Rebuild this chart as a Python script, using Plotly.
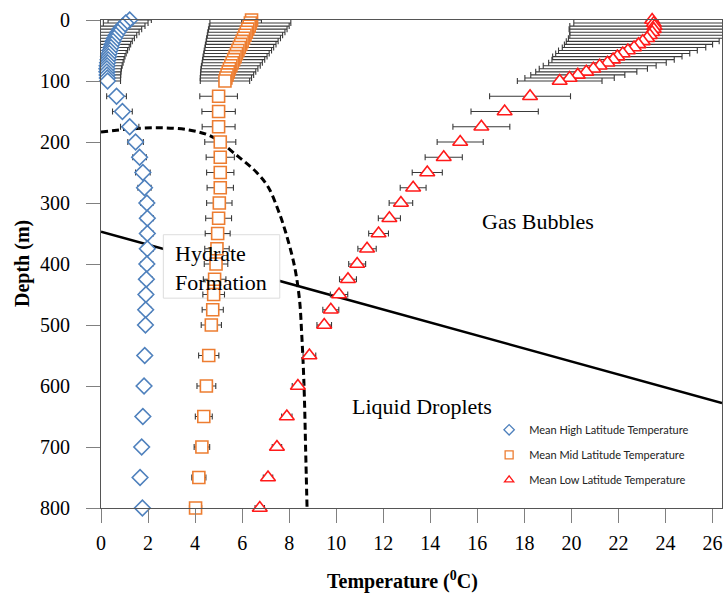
import plotly.graph_objects as go

depth = [0, 5, 10, 15, 20, 25, 30, 35, 40, 45, 50, 55, 60, 65, 70, 75, 80, 85, 90, 95, 100,
         125, 150, 175, 200, 225, 250, 275, 300, 325, 350, 375, 400, 425, 450, 475, 500,
         550, 600, 650, 700, 750, 800]

high_temp = [1.22, 1.05, 0.92, 0.80, 0.72, 0.64, 0.57, 0.51, 0.46, 0.42, 0.38, 0.35, 0.32, 0.30, 0.28, 0.26, 0.25, 0.25, 0.26, 0.27, 0.28,
             0.66, 0.91, 1.22, 1.47, 1.64, 1.78, 1.85, 1.95, 1.97, 1.97, 1.97, 1.95, 1.93, 1.91, 1.90, 1.89,
             1.86, 1.83, 1.78, 1.73, 1.66, 1.76]
high_err = [0.92, 0.95, 0.95, 0.93, 0.90, 0.88, 0.85, 0.82, 0.80, 0.78, 0.75, 0.72, 0.70, 0.68, 0.66, 0.64, 0.62, 0.60, 0.58, 0.56, 0.55,
            0.42, 0.42, 0.39, 0.33, 0.29, 0.31, 0.28, 0.26, 0.26, 0.25, 0.25, 0.25, 0.24, 0.24, 0.23, 0.23,
            0.22, 0.21, 0.20, 0.19, 0.18, 0.17]

mid_temp = [6.40, 6.35, 6.30, 6.24, 6.18, 6.12, 6.06, 6.00, 5.94, 5.88, 5.82, 5.76, 5.70, 5.64, 5.58, 5.52, 5.46, 5.41, 5.36, 5.31, 5.27,
            5.00, 5.00, 5.00, 5.07, 5.07, 5.07, 5.07, 5.03, 5.00, 4.96, 4.93, 4.89, 4.83, 4.79, 4.75, 4.69,
            4.58, 4.48, 4.37, 4.29, 4.16, 4.02]
mid_err = [0.42, 1.72, 1.70, 1.67, 1.64, 1.60, 1.57, 1.53, 1.50, 1.46, 1.43, 1.39, 1.36, 1.32, 1.28, 1.25, 1.21, 1.17, 1.13, 1.09, 1.05,
           0.80, 0.71, 0.70, 0.66, 0.60, 0.58, 0.56, 0.54, 0.55, 0.53, 0.52, 0.50, 0.48, 0.46, 0.45, 0.43,
           0.43, 0.40, 0.36, 0.33, 0.30, 0.26]

low_temp = [23.43, 23.50, 23.53, 23.50, 23.43, 23.33, 23.22, 23.03, 22.85, 22.66, 22.40, 22.18, 21.95, 21.77, 21.53, 21.20, 20.93, 20.63, 20.27, 19.92, 19.50,
            18.24, 17.16, 16.17, 15.27, 14.57, 13.87, 13.27, 12.75, 12.26, 11.80, 11.31, 10.89, 10.50, 10.12, 9.77, 9.49,
            8.86, 8.37, 7.90, 7.48, 7.10, 6.75]
low_err = [0.25, 3.40, 3.60, 3.60, 3.50, 3.40, 3.35, 3.25, 3.15, 3.05, 2.95, 2.85, 2.75, 2.60, 2.50, 2.40, 2.30, 2.15, 2.00, 1.90, 1.80,
           1.72, 1.43, 1.21, 0.98, 0.79, 0.64, 0.55, 0.50, 0.47, 0.42, 0.39, 0.36, 0.36, 0.37, 0.34, 0.31,
           0.27, 0.24, 0.22, 0.20, 0.20, 0.20]

hydrate_temp = [0, 1.22, 2.48, 3.74, 4.71, 5.84, 6.60, 7.10, 7.53, 7.86, 8.23, 8.44, 8.53, 8.60, 8.65, 8.70, 8.76]
hydrate_depth = [183.6, 178.7, 176.6, 180.3, 191.3, 224.1, 249.2, 273.3, 311.5, 349.2, 404.4, 459, 513, 568, 623, 705, 800]

phase_temp = [0, 26.4]
phase_depth = [347, 628]

x_ticks = [0, 2, 4, 6, 8, 10, 12, 14, 16, 18, 20, 22, 24, 26]
y_ticks = [0, 100, 200, 300, 400, 500, 600, 700, 800]

series = [
    ("Mean High Latitude Temperature", high_temp, high_err, "diamond", "#4F81BD", 12),
    ("Mean Mid Latitude Temperature", mid_temp, mid_err, "square", "#ED7D31", 12),
    ("Mean Low Latitude Temperature", low_temp, low_err, "triangle-up", "#FF1A1A", 13),
]

fig = go.Figure()

fig.add_trace(go.Scatter(x=hydrate_temp, y=hydrate_depth, mode="lines", line_shape="spline",
                         line=dict(color="black", width=3, dash="7px,4px"),
                         showlegend=False, hoverinfo="skip"))

for i, (name, temps, errs, sym, col, sz) in enumerate(series):
    fig.add_trace(go.Scatter(
        x=temps, y=depth, mode="markers", name=name, legendgroup="g%d" % i, showlegend=False,
        marker=dict(symbol=sym, size=sz, color="white", line=dict(color=col, width=1.6)),
        error_x=dict(type="data", array=errs, visible=True, color="#3a3a3a", thickness=1.1, width=3),
        cliponaxis=False,
    ))
    # legend entry with small symbol (as in the reference legend)
    fig.add_trace(go.Scatter(
        x=[None], y=[None], mode="markers", name=name, legendgroup="g%d" % i,
        marker=dict(symbol=sym, size=8, color="white", line=dict(color=col, width=1.3)),
    ))

serif = "Liberation Serif"

fig.update_layout(
    width=728, height=594,
    margin=dict(l=101, r=6, t=20, b=86),
    plot_bgcolor="white", paper_bgcolor="white",
    showlegend=True,
    legend=dict(x=0.625, y=0.19, xanchor="left", yanchor="top",
                font=dict(family="Lato", size=11, color="#222"),
                bgcolor="rgba(0,0,0,0)", tracegroupgap=6, traceorder="grouped",
                itemwidth=30),
    xaxis=dict(range=[0, 26.4], tickvals=x_ticks, ticks="outside", ticklen=14, tickcolor="#808080",
               showline=True, linecolor="#555555", mirror=True, showgrid=False, zeroline=False,
               tickfont=dict(family=serif, size=20, color="black"), ticklabelstandoff=3,
               ticklabeloverflow="allow", automargin=False),
    yaxis=dict(range=[800, 0], tickvals=y_ticks, ticks="outside", ticklen=14, tickcolor="#808080",
               showline=True, linecolor="#555555", mirror=True, showgrid=False, zeroline=False,
               tickfont=dict(family=serif, size=20, color="black"), ticklabelstandoff=12,
               automargin=False),
    shapes=[
        dict(type="line", xref="x", yref="y", x0=phase_temp[0], y0=phase_depth[0],
             x1=phase_temp[1], y1=phase_depth[1], line=dict(color="black", width=2.5), layer="below"),
        dict(type="rect", xref="x", yref="y", x0=2.65, x1=7.6, y0=352, y1=456,
             fillcolor="white", line=dict(color="#dddddd", width=1), layer="below"),
    ],
    annotations=[
        dict(text="Gas Bubbles", x=16.1, y=331, xref="x", yref="y", xanchor="left", yanchor="middle",
             showarrow=False, font=dict(family=serif, size=22, color="black")),
        dict(text="Liquid Droplets", x=10.6, y=634, xref="x", yref="y", xanchor="left", yanchor="middle",
             showarrow=False, font=dict(family=serif, size=22, color="black")),
        dict(text="Hydrate<br>Formation", x=3.05, y=407, xref="x", yref="y", xanchor="left", yanchor="middle",
             align="left", showarrow=False, font=dict(family=serif, size=22, color="black")),
        dict(text="<b>Temperature (<sup>0</sup>C)</b>", x=402, y=580, xanchor="center", yanchor="middle",
             showarrow=False, font=dict(family=serif, size=20, color="black")),
        dict(text="<b>Depth (m)</b>", x=22, y=264, textangle=-90, xanchor="center", yanchor="middle",
             showarrow=False, font=dict(family=serif, size=20, color="black")),
    ],
)

# convert pixel positions of axis-title annotations into paper coordinates
pl, pr, pt, pb = 101, 722, 20, 508
for ann in fig.layout.annotations[3:]:
    ann.x = (ann.x - pl) / (pr - pl)
    ann.y = (pb - ann.y) / (pb - pt)
    ann.xref = "paper"
    ann.yref = "paper"

fig.write_html("out.html")
